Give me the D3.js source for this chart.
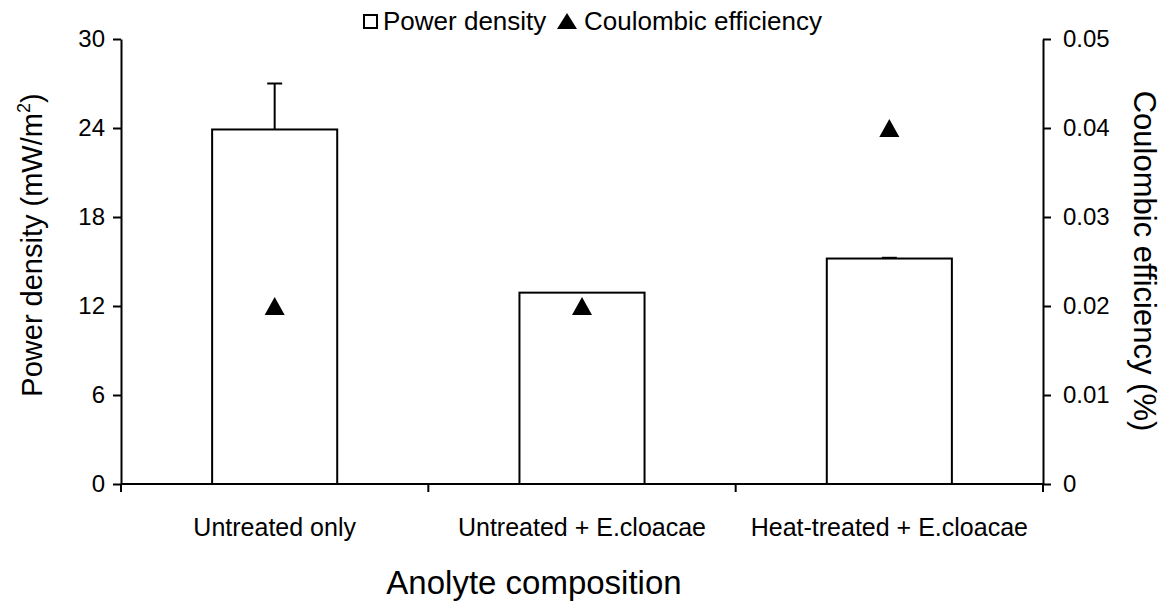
<!DOCTYPE html>
<html>
<head>
<meta charset="utf-8">
<script src="https://cdn.jsdelivr.net/npm/d3@7"></script>
<style>
  body { margin: 0; background: #fff; }
  text { font-family: "Liberation Sans", Arial, sans-serif; fill: #000; }
</style>
</head>
<body>
<svg id="chart" width="1172" height="608"></svg>
<script>
// data
const categories = ["Untreated only", "Untreated + E.cloacae", "Heat-treated + E.cloacae"]
const powerDensity = [23.9, 12.9, 15.2]
const powerError = [3.1, 0, 0.05]
const coulombic = [0.02, 0.02, 0.04]
const leftTicks = [0, 6, 12, 18, 24, 30]
const rightTicks = [0, 0.01, 0.02, 0.03, 0.04, 0.05]

let svg = d3.select("#chart")
let margin = {top: 39, right: 129, bottom: 124, left: 121}
let width = 1172 - margin.left - margin.right
let height = 608 - margin.top - margin.bottom

let g = svg.append("g").attr("transform", "translate(" + margin.left + "," + margin.top + ")")

// AXES
const x = d3.scaleBand()
    .domain(categories)
    .range([0, width])
    .paddingInner(0.593)
    .paddingOuter(0.593 / 2)

const band = d3.scaleBand().domain(categories).range([0, width]).padding(0)

const yLeft = d3.scaleLinear().domain([0, 30]).range([height, 0])
const yRight = d3.scaleLinear().domain([0, 0.05]).range([height, 0])

// bars first so axes sit on top
let bars = g.selectAll(".bar").data(categories).enter()

bars.append("line")
    .attr("x1", d => x(d) + x.bandwidth() / 2)
    .attr("x2", d => x(d) + x.bandwidth() / 2)
    .attr("y1", (d, i) => yLeft(powerDensity[i]))
    .attr("y2", (d, i) => yLeft(powerDensity[i] + powerError[i]))
    .attr("stroke", "#000").attr("stroke-width", 2)

bars.append("line")
    .attr("x1", d => x(d) + x.bandwidth() / 2 - 7.5)
    .attr("x2", d => x(d) + x.bandwidth() / 2 + 7.5)
    .attr("y1", (d, i) => yLeft(powerDensity[i] + powerError[i]))
    .attr("y2", (d, i) => yLeft(powerDensity[i] + powerError[i]))
    .attr("stroke", "#000").attr("stroke-width", 2)
    .style("display", (d, i) => powerError[i] > 0 ? null : "none")

bars.append("rect")
    .attr("class", "bar")
    .attr("x", d => x(d))
    .attr("width", x.bandwidth())
    .attr("y", (d, i) => yLeft(powerDensity[i]))
    .attr("height", (d, i) => height - yLeft(powerDensity[i]))
    .attr("fill", "#fff")
    .attr("stroke", "#000")
    .attr("stroke-width", 2)

const tri = (w, h) => "M0," + (-h / 2) + "L" + (w / 2) + "," + (h / 2) + "L" + (-w / 2) + "," + (h / 2) + "Z"

g.selectAll(".tri").data(categories).enter()
    .append("path")
    .attr("class", "tri")
    .attr("d", tri(20, 18))
    .attr("transform", (d, i) => "translate(" + (x(d) + x.bandwidth() / 2) + "," + yRight(coulombic[i]) + ")")
    .attr("fill", "#000")

let leftAxis = g.append("g")
    .call(d3.axisLeft(yLeft).tickValues(leftTicks).tickSize(8).tickPadding(8).tickSizeOuter(0))

let rightAxis = g.append("g")
    .attr("transform", "translate(" + width + ",0)")
    .call(d3.axisRight(yRight).tickValues(rightTicks).tickSize(8).tickPadding(12).tickSizeOuter(0)
        .tickFormat(d => d === 0 ? "0" : d3.format(".2f")(d)))

// x axis: ticks sit between categories
let bottomAxis = g.append("g").attr("transform", "translate(0," + height + ")")
bottomAxis.append("line").attr("x1", 0).attr("x2", width).attr("stroke", "#000").attr("stroke-width", 2)
bottomAxis.selectAll(".xt").data([0].concat(categories.map(c => band(c) + band.bandwidth()))).enter()
    .append("line")
    .attr("x1", d => d).attr("x2", d => d)
    .attr("y1", 0).attr("y2", 8)
    .attr("stroke", "#000").attr("stroke-width", 2)
bottomAxis.selectAll(".xl").data(categories).enter()
    .append("text")
    .attr("x", d => x(d) + x.bandwidth() / 2)
    .attr("y", 52)
    .style("text-anchor", "middle")
    .style("font-size", "25px")
    .text(d => d)

for (let ax of [leftAxis, rightAxis]) {
    ax.select(".domain").attr("stroke", "#000").attr("stroke-width", 2)
    ax.selectAll(".tick line").attr("stroke", "#000").attr("stroke-width", 2)
    ax.selectAll(".tick text").style("font-size", "24px").style("font-family", "Liberation Sans, Arial, sans-serif")
}
// END AXES

// titles
svg.append("text")
    .attr("x", 534)
    .attr("y", 594)
    .style("text-anchor", "middle")
    .style("font-size", "33px")
    .text("Anolyte composition")

let lt = svg.append("text")
    .attr("transform", "translate(42,245) rotate(-90)")
    .style("text-anchor", "middle")
    .style("font-size", "29px")
lt.append("tspan").text("Power density (mW/m")
lt.append("tspan").text("2").attr("dy", -12).style("font-size", "18px")
lt.append("tspan").text(")").attr("dy", 12)

svg.append("text")
    .attr("transform", "translate(1134,261) rotate(90)")
    .style("text-anchor", "middle")
    .style("font-size", "31px")
    .text("Coulombic efficiency (%)")

// legend
let legend = svg.append("g")
legend.append("rect").attr("x", 364).attr("y", 15).attr("width", 13).attr("height", 13)
    .attr("fill", "#fff").attr("stroke", "#000").attr("stroke-width", 2)
legend.append("text").attr("x", 383).attr("y", 30).style("font-size", "26px").text("Power density")
legend.append("path").attr("d", tri(20, 16)).attr("transform", "translate(567,21)").attr("fill", "#000")
legend.append("text").attr("x", 584).attr("y", 30).style("font-size", "26px").text("Coulombic efficiency")
</script>
</body>
</html>
